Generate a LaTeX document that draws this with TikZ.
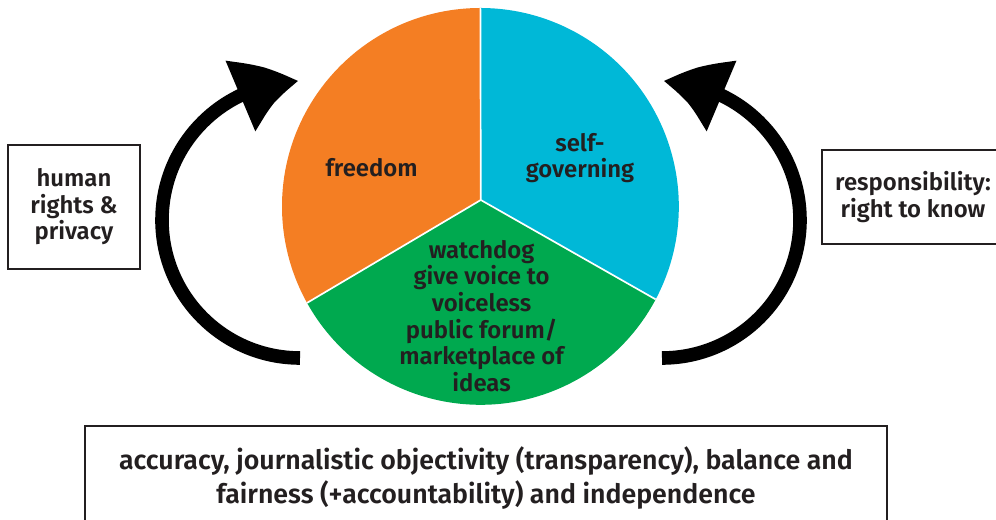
\documentclass[tikz,border=0pt]{standalone}
\usepackage{fontspec}
\setmainfont{Fira Sans}[BoldFont={Fira Sans SemiBold}]
\usetikzlibrary{arrows.meta, bending}

\definecolor{pieorange}{HTML}{F47E23}
\definecolor{pieblue}{HTML}{00B8D7}
\definecolor{piegreen}{HTML}{00A94F}
\definecolor{ink}{HTML}{231F20}

\tikzset{
  pietext/.style={text=ink, font=\bfseries\fontsize{17}{18.9}\selectfont, align=center},
  framebox/.style={draw=ink, line width=1.6pt, inner sep=0pt},
  cyclearrow/.style={line width=0.34cm, -{Triangle[width=1.8cm, length=1.55cm, bend]}},
}

\begin{document}
\begin{tikzpicture}
    \useasboundingbox (0,0) rectangle (24.9,13);
    % pie
    \coordinate (C) at (12.01,7.84);
    \coordinate (J) at (12.02,8.0);
    \def\rad{4.96}
    \fill[pieorange] (J) -- ([shift={(90:\rad)}]C) arc[start angle=90, end angle=209.1, radius=\rad] -- cycle;
    \fill[piegreen] (J) -- ([shift={(209.1:\rad)}]C) arc[start angle=209.1, end angle=332.05, radius=\rad] -- cycle;
    \fill[pieblue] (J) -- ([shift={(-27.95:\rad)}]C) arc[start angle=-27.95, end angle=90, radius=\rad] -- cycle;
    \draw[white, line width=1.2pt] (J) -- ([shift={(90:\rad)}]C) (J) -- ([shift={(209.1:\rad)}]C) (J) -- ([shift={(-27.95:\rad)}]C);
    \node[pietext] (freedom) at (9.29,8.8) {freedom};
    \node[pietext] (selfgov) at (14.5,9.05) {self-\\governing};
    \node[pietext] (watchdog) at (12.04,5.1) {watchdog\\give voice to\\voiceless\\public forum/\\marketplace of\\ideas};
    % arrows
    \coordinate (lfoot) at (7.5,4.05);
    \coordinate (rfoot) at (16.55,4.05);
    \draw[cyclearrow] (lfoot) arc[start angle=270, end angle=90.5, radius=3.45];
    \draw[cyclearrow] (rfoot) arc[start angle=-90, end angle=89.5, radius=3.45];
    % boxes
    \node[framebox, pietext, minimum width=3.3cm, minimum height=3.1cm] (rights) at (1.85,7.825) {human\\rights \&\\privacy};
    \node[framebox, pietext, minimum width=4.55cm, minimum height=2.35cm] (know) at (22.825,8.075) {responsibility:\\right to know};
    \node[framebox, pietext, font=\bfseries\fontsize{19}{24.8}\selectfont, minimum width=20.05cm, minimum height=2.6cm] (values) at (12.15,1.05)
        {accuracy, journalistic objectivity (transparency), balance and\\fairness (+accountability) and independence};
\end{tikzpicture}
\end{document}
